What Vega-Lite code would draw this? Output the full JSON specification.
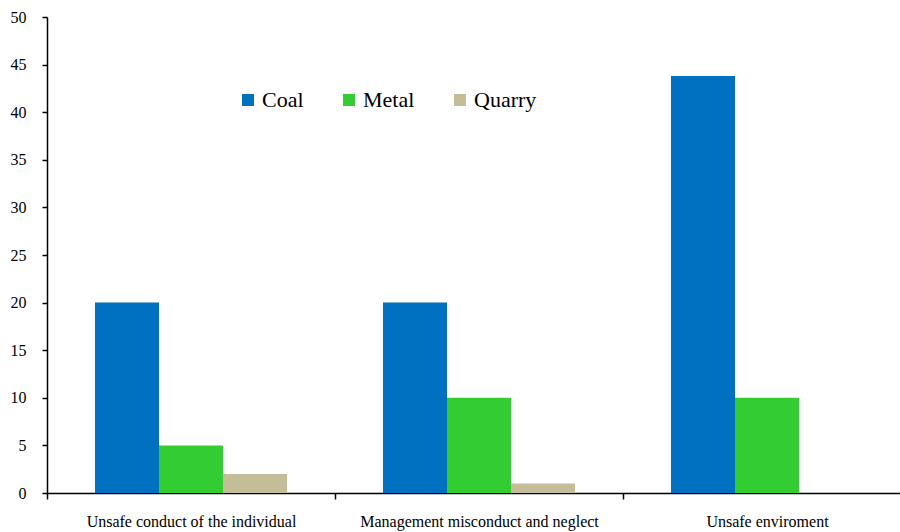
{
  "$schema": "https://vega.github.io/schema/vega-lite/v6.json",
  "width": 864,
  "height": 476,
  "autosize": {"type": "none"},
  "padding": {"left": 47, "top": 17, "right": 0, "bottom": 39},
  "background": "white",
  "config": {
    "view": {"stroke": null},
    "font": "Liberation Serif",
    "axis": {"labelFont": "Liberation Serif", "labelColor": "black", "domainColor": "black", "tickColor": "black", "grid": false, "title": null, "labelLimit": 0},
    "legend": {"labelFont": "Liberation Serif, serif", "labelColor": "black", "labelLimit": 0}
  },
  "data": {
    "values": [
      {"cause": "Unsafe conduct of the individual", "type": "Coal", "value": 20},
      {"cause": "Unsafe conduct of the individual", "type": "Metal", "value": 5},
      {"cause": "Unsafe conduct of the individual", "type": "Quarry", "value": 2},
      {"cause": "Management misconduct and neglect", "type": "Coal", "value": 20},
      {"cause": "Management misconduct and neglect", "type": "Metal", "value": 10},
      {"cause": "Management misconduct and neglect", "type": "Quarry", "value": 1},
      {"cause": "Unsafe enviroment", "type": "Coal", "value": 43.8},
      {"cause": "Unsafe enviroment", "type": "Metal", "value": 10},
      {"cause": "Unsafe enviroment", "type": "Quarry", "value": 0}
    ]
  },
  "mark": {"type": "bar"},
  "encoding": {
    "x": {
      "field": "cause", "type": "nominal", "sort": null,
      "scale": {"paddingInner": 0, "paddingOuter": 0},
      "axis": {"labelAngle": 0, "labelFontSize": 16, "tickBand": "extent", "tickSize": 6, "labelPadding": 14, "domainWidth": 1.5, "tickWidth": 1.5}
    },
    "xOffset": {
      "field": "type", "type": "nominal", "sort": ["Coal", "Metal", "Quarry"],
      "scale": {"paddingInner": 0, "paddingOuter": 0.75}
    },
    "y": {
      "field": "value", "type": "quantitative",
      "scale": {"domain": [0, 50], "nice": false},
      "axis": {"values": [0, 5, 10, 15, 20, 25, 30, 35, 40, 45, 50], "labelFontSize": 16, "tickSize": 5, "labelPadding": 16, "domainWidth": 1.5, "tickWidth": 1.5}
    },
    "color": {
      "field": "type", "type": "nominal", "sort": ["Coal", "Metal", "Quarry"],
      "scale": {"domain": ["Coal", "Metal", "Quarry"], "range": ["#0070C0", "#33CC33", "#C4BD97"]},
      "legend": {
        "title": null, "orient": "none", "legendX": 190, "legendY": 72,
        "direction": "horizontal", "symbolType": "square", "symbolSize": 144,
        "symbolStrokeWidth": 0, "labelFontSize": 22, "labelFont": "Liberation Serif, serif",
        "labelColor": "black", "labelOffset": 3, "columnPadding": 34
      }
    }
  }
}
